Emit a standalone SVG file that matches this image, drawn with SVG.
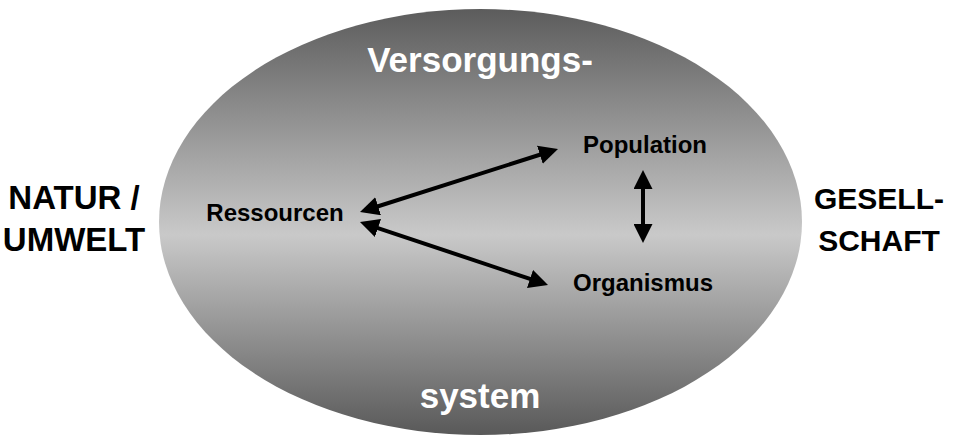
<svg xmlns="http://www.w3.org/2000/svg" width="954" height="436" viewBox="0 0 954 436">
  <defs>
    <linearGradient id="shade" x1="0" y1="0" x2="0" y2="1">
      <stop offset="0" stop-color="#5c5c5c"/>
      <stop offset="0.53" stop-color="#c9c9c9"/>
      <stop offset="1" stop-color="#595959"/>
    </linearGradient>
    <marker id="head" viewBox="0 0 19 19" refX="4" refY="9.5" markerWidth="19" markerHeight="19" markerUnits="userSpaceOnUse" orient="auto-start-reverse">
      <path d="M0,0 L19,9.5 L0,19 Z" fill="#000"/>
    </marker>
  </defs>
  <style>
    text { font-family: "Liberation Sans", Arial, Helvetica, sans-serif; font-weight: bold; text-anchor: middle; }
    .big { font-size: 35px; fill: #fff; }
    .left { font-size: 33px; fill: #000; }
    .right { font-size: 30px; fill: #000; }
    .node { font-size: 24px; fill: #000; }
    .link { stroke: #000; stroke-width: 4; fill: none; marker-start: url(#head); marker-end: url(#head); }
  </style>
  <rect width="954" height="436" fill="#fff"/>

  <g id="system">
    <ellipse cx="480.5" cy="222" rx="321.5" ry="213" fill="url(#shade)"/>
    <text class="big" x="480" y="72">Versorgungs-</text>
    <text class="big" x="480" y="408">system</text>
  </g>

  <g id="natur">
    <text class="left" x="74" y="209">NATUR /</text>
    <text class="left" x="74" y="251">UMWELT</text>
  </g>

  <g id="gesellschaft">
    <text class="right" x="879" y="209">GESELL-</text>
    <text class="right" x="879" y="251">SCHAFT</text>
  </g>

  <g id="ressourcen">
    <text class="node" x="275" y="221">Ressourcen</text>
  </g>
  <g id="population">
    <text class="node" x="645" y="153">Population</text>
  </g>
  <g id="organismus">
    <text class="node" x="643" y="291">Organismus</text>
  </g>

  <g id="connectors">
    <line class="link" x1="374.3" y1="207.5" x2="543.7" y2="153.5"/>
    <line class="link" x1="374.2" y1="226.8" x2="533.8" y2="280.2"/>
    <line class="link" x1="643" y1="185" x2="643" y2="228"/>
  </g>
</svg>
